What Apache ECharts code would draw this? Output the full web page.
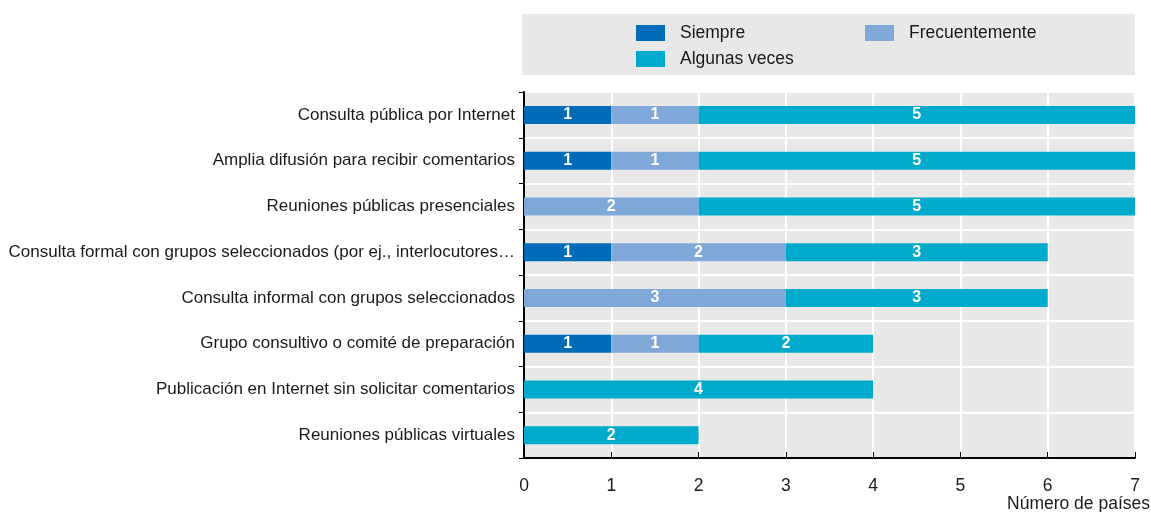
<!DOCTYPE html>
<html>
<head>
<meta charset="utf-8">
<script src="https://cdn.jsdelivr.net/npm/echarts@6/dist/echarts.min.js"></script>
<style>
  html, body { margin: 0; padding: 0; background: #fff; }
  #chart { width: 1151px; height: 512px; }
</style>
</head>
<body>
<div id="chart"></div>
<script>
// categories, top to bottom
const categories = [
  'Consulta pública por Internet',
  'Amplia difusión para recibir comentarios',
  'Reuniones públicas presenciales',
  'Consulta formal con grupos seleccionados (por ej., interlocutores…',
  'Consulta informal con grupos seleccionados',
  'Grupo consultivo o comité de preparación',
  'Publicación en Internet sin solicitar comentarios',
  'Reuniones públicas virtuales'
];
const siempre        = [1, 1, 0, 1, 0, 1, 0, 0];
const frecuentemente = [1, 1, 2, 2, 3, 1, 0, 0];
const algunasVeces   = [5, 5, 5, 3, 3, 2, 4, 2];

const FONT = '"Liberation Sans", Arial, sans-serif';
const chart = echarts.init(document.getElementById('chart'));

function barSeries(name, data, color) {
  return {
    name: name,
    type: 'bar',
    stack: 'total',
    barWidth: 18,
    data: data,
    itemStyle: { color: color },
    label: {
      show: true,
      position: 'inside',
      color: '#fff',
      fontWeight: 'bold',
      fontSize: 16,
      fontFamily: FONT,
      formatter: p => (p.value ? String(p.value) : '')
    }
  };
}

function legendAt(name, left, top) {
  return {
    data: [name],
    left: left,
    top: top,
    itemWidth: 29,
    itemHeight: 16,
    itemGap: 0,
    padding: 0,
    selectedMode: false,
    icon: 'rect',
    textStyle: { fontSize: 17.5, color: '#1a1a1a', fontFamily: FONT, padding: [0, 0, 0, 10] }
  };
}

chart.setOption({
  animation: false,
  textStyle: { fontFamily: FONT },
  graphic: [
    {
      type: 'rect',
      shape: { x: 522, y: 14, width: 613, height: 61 },
      style: { fill: '#e8e8e8' },
      z: -1
    },
    {
      type: 'text',
      right: 1,
      top: 495,
      style: { text: 'Número de países', fill: '#1a1a1a', font: '17.5px ' + FONT }
    }
  ],
  legend: [
    legendAt('Siempre', 636, 24),
    legendAt('Frecuentemente', 865, 24),
    legendAt('Algunas veces', 636, 50)
  ],
  grid: {
    left: 524,
    right: 16,
    top: 92,
    bottom: 54,
    show: true,
    backgroundColor: '#e8e8e8',
    borderWidth: 0
  },
  xAxis: {
    type: 'value',
    min: 0,
    max: 7,
    interval: 1,
    axisLine: { show: true, lineStyle: { color: '#000', width: 2 } },
    axisTick: { show: true, inside: true, length: 6, lineStyle: { color: '#000' } },
    axisLabel: { fontSize: 17.5, color: '#1a1a1a', margin: 19, fontFamily: FONT },
    splitLine: { show: true, lineStyle: { color: '#fff', width: 2 } }
  },
  yAxis: {
    type: 'category',
    inverse: true,
    data: categories,
    axisLine: { show: true, lineStyle: { color: '#000', width: 2 } },
    axisTick: { show: true, length: 5, lineStyle: { color: '#000' } },
    axisLabel: { fontSize: 17, color: '#1a1a1a', margin: 9, fontFamily: FONT },
    splitLine: { show: true, lineStyle: { color: '#fff', width: 2 } }
  },
  series: [
    barSeries('Siempre', siempre, '#006bb6'),
    barSeries('Frecuentemente', frecuentemente, '#7fa8d9'),
    barSeries('Algunas veces', algunasVeces, '#00aacc')
  ]
});
</script>
</body>
</html>
